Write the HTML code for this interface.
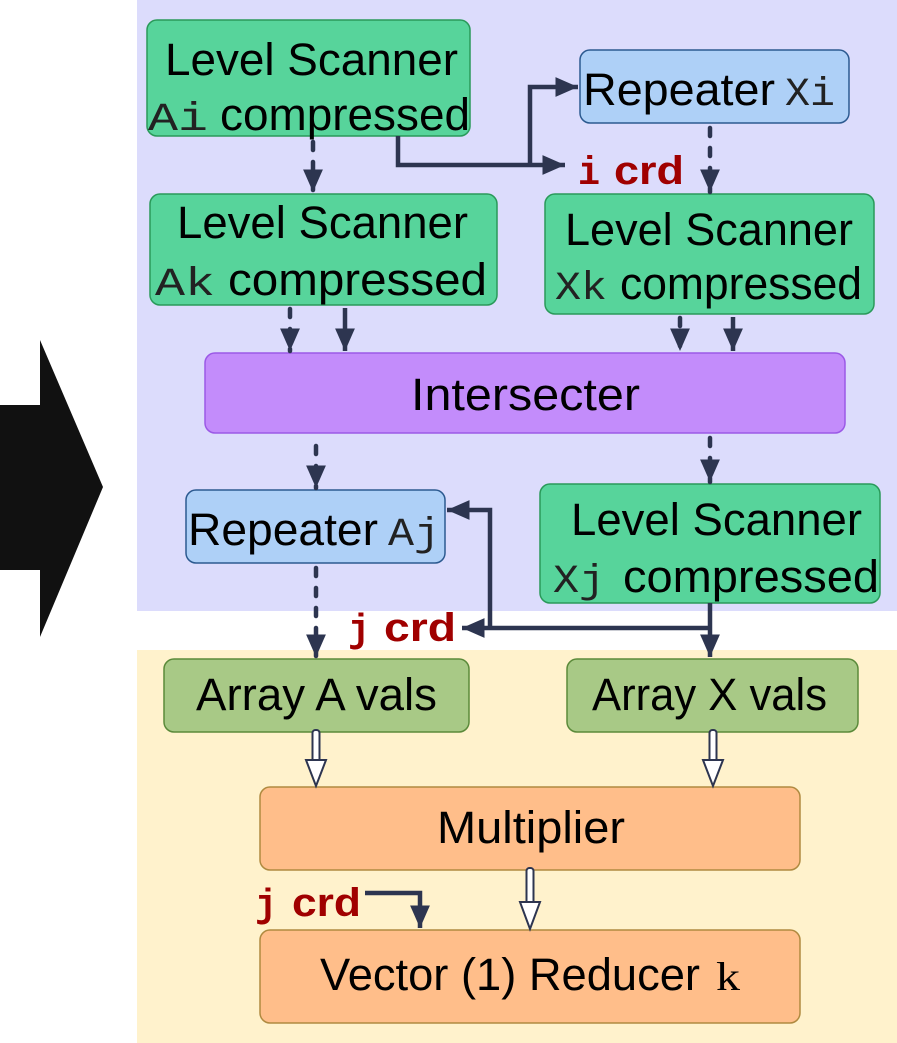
<!DOCTYPE html>
<html><head><meta charset="utf-8"><style>html,body{margin:0;padding:0;background:#fff}svg{display:block}</style></head>
<body>
<svg width="897" height="1043" viewBox="0 0 897 1043" xmlns="http://www.w3.org/2000/svg" font-family="Liberation Sans, sans-serif">
<defs>
<marker id="a" markerWidth="6" markerHeight="6" refX="5" refY="3" orient="auto" markerUnits="strokeWidth"><path d="M0,0.8 L5,3 L0,5.2 Z" fill="#2d3550"/></marker>
</defs>
<rect x="137" y="0" width="760" height="611" fill="#dcdcfc"/>
<rect x="137" y="650" width="760" height="393" fill="#fff2cc"/>
<polygon points="0,405 40,405 40,340 103,487 40,637 40,570 0,570" fill="#111"/>

<g stroke-width="1.5">
<rect x="147" y="20" width="323" height="116" rx="10" fill="#57d49b" stroke="#2a9a5a"/>
<rect x="580" y="50" width="269" height="73" rx="10" fill="#aed0f7" stroke="#2c5a90"/>
<rect x="150" y="194" width="347" height="111" rx="10" fill="#57d49b" stroke="#2a9a5a"/>
<rect x="545" y="194" width="329" height="120" rx="10" fill="#57d49b" stroke="#2a9a5a"/>
<rect x="205" y="353" width="640" height="80" rx="10" fill="#c38cfb" stroke="#9b59e6"/>
<rect x="186" y="490" width="259" height="73" rx="10" fill="#aed0f7" stroke="#2c5a90"/>
<rect x="540" y="484" width="340" height="119" rx="10" fill="#57d49b" stroke="#2a9a5a"/>
<rect x="164" y="659" width="305" height="73" rx="10" fill="#a8c986" stroke="#5b8a3a"/>
<rect x="567" y="659" width="291" height="73" rx="10" fill="#a8c986" stroke="#5b8a3a"/>
<rect x="260" y="787" width="540" height="83" rx="10" fill="#ffbe8a" stroke="#b08a40"/>
<rect x="260" y="930" width="540" height="93" rx="10" fill="#ffbe8a" stroke="#b08a40"/>
</g>

<g fill="#000" font-size="45">
<text x="165" y="75" textLength="293" lengthAdjust="spacingAndGlyphs">Level Scanner</text>
<text x="148" y="130" textLength="60" lengthAdjust="spacingAndGlyphs" font-family="Liberation Mono, monospace" font-size="40" fill="#222">Ai</text>
<text x="220" y="130" textLength="250" lengthAdjust="spacingAndGlyphs">compressed</text>
<text x="583" y="105" textLength="192" lengthAdjust="spacingAndGlyphs">Repeater</text>
<text x="785" y="105" textLength="50" lengthAdjust="spacingAndGlyphs" font-family="Liberation Mono, monospace" font-size="40" fill="#222">Xi</text>
<text x="177" y="238" textLength="291" lengthAdjust="spacingAndGlyphs">Level Scanner</text>
<text x="155" y="295" textLength="60" lengthAdjust="spacingAndGlyphs" font-family="Liberation Mono, monospace" font-size="40" fill="#222">Ak</text>
<text x="228" y="295" textLength="259" lengthAdjust="spacingAndGlyphs">compressed</text>
<text x="565" y="245" textLength="288" lengthAdjust="spacingAndGlyphs">Level Scanner</text>
<text x="555" y="299" textLength="52" lengthAdjust="spacingAndGlyphs" font-family="Liberation Mono, monospace" font-size="40" fill="#222">Xk</text>
<text x="620" y="299" textLength="242" lengthAdjust="spacingAndGlyphs">compressed</text>
<text x="411" y="410" textLength="229" lengthAdjust="spacingAndGlyphs">Intersecter</text>
<text x="188" y="545" textLength="190" lengthAdjust="spacingAndGlyphs">Repeater</text>
<text x="388" y="545" textLength="52" lengthAdjust="spacingAndGlyphs" font-family="Liberation Mono, monospace" font-size="40" fill="#222">Aj</text>
<text x="571" y="535" textLength="291" lengthAdjust="spacingAndGlyphs">Level Scanner</text>
<text x="553" y="592" textLength="52" lengthAdjust="spacingAndGlyphs" font-family="Liberation Mono, monospace" font-size="40" fill="#222">Xj</text>
<text x="623" y="592" textLength="256" lengthAdjust="spacingAndGlyphs">compressed</text>
<text x="196" y="710" textLength="241" lengthAdjust="spacingAndGlyphs">Array A vals</text>
<text x="592" y="710" textLength="235" lengthAdjust="spacingAndGlyphs">Array X vals</text>
<text x="437" y="843" textLength="188" lengthAdjust="spacingAndGlyphs">Multiplier</text>
<text x="320" y="990" textLength="380" lengthAdjust="spacingAndGlyphs">Vector (1) Reducer</text>
<text x="716" y="990" textLength="24" lengthAdjust="spacingAndGlyphs" font-family="Liberation Serif, serif" font-size="40">k</text>
</g>

<g fill="#a00000" font-weight="bold" font-size="40">
<text x="578" y="184" textLength="22" lengthAdjust="spacingAndGlyphs" font-family="Liberation Mono, monospace">i</text>
<text x="614" y="184" textLength="70" lengthAdjust="spacingAndGlyphs">crd</text>
<text x="348" y="641" textLength="22" lengthAdjust="spacingAndGlyphs" font-family="Liberation Mono, monospace">j</text>
<text x="384" y="641" textLength="72" lengthAdjust="spacingAndGlyphs">crd</text>
<text x="255" y="916" textLength="22" lengthAdjust="spacingAndGlyphs" font-family="Liberation Mono, monospace">j</text>
<text x="292" y="916" textLength="69" lengthAdjust="spacingAndGlyphs">crd</text>
</g>

<g stroke="#2d3550" stroke-width="4.5" fill="none" marker-end="url(#a)">
<g stroke-dasharray="8,12" stroke-linecap="round">
<line x1="313" y1="142" x2="313" y2="192" />
<line x1="710" y1="128" x2="710" y2="192" />
<line x1="290" y1="309" x2="290" y2="351" />
<line x1="680" y1="318" x2="680" y2="351" />
<line x1="316" y1="446" x2="316" y2="488" />
<line x1="710" y1="438" x2="710" y2="482" />
<line x1="316" y1="568" x2="316" y2="657" />
</g>
<line x1="345" y1="308" x2="345" y2="351"/>
<line x1="733" y1="317" x2="733" y2="351"/>
<polyline points="398,136 398,165 565,165"/>
<polyline points="530,165 530,87 578,87"/>
<line x1="710" y1="603" x2="710" y2="657"/>
<polyline points="710,628 462,628"/>
<polyline points="490,628 490,510 447,510"/>
<polyline points="365,893 420,893 420,928"/>
</g>

<g fill="#fff" stroke="#2d3550" stroke-width="2">
<rect x="312.5" y="730" width="7" height="32" rx="3"/>
<polygon points="306,760 326,760 316,786"/>
<rect x="709.5" y="730" width="7" height="32" rx="3"/>
<polygon points="703,760 723,760 713,786"/>
<rect x="526.5" y="868" width="7" height="36" rx="3"/>
<polygon points="520,902 540,902 530,929"/>
</g>
</svg>
</body></html>
